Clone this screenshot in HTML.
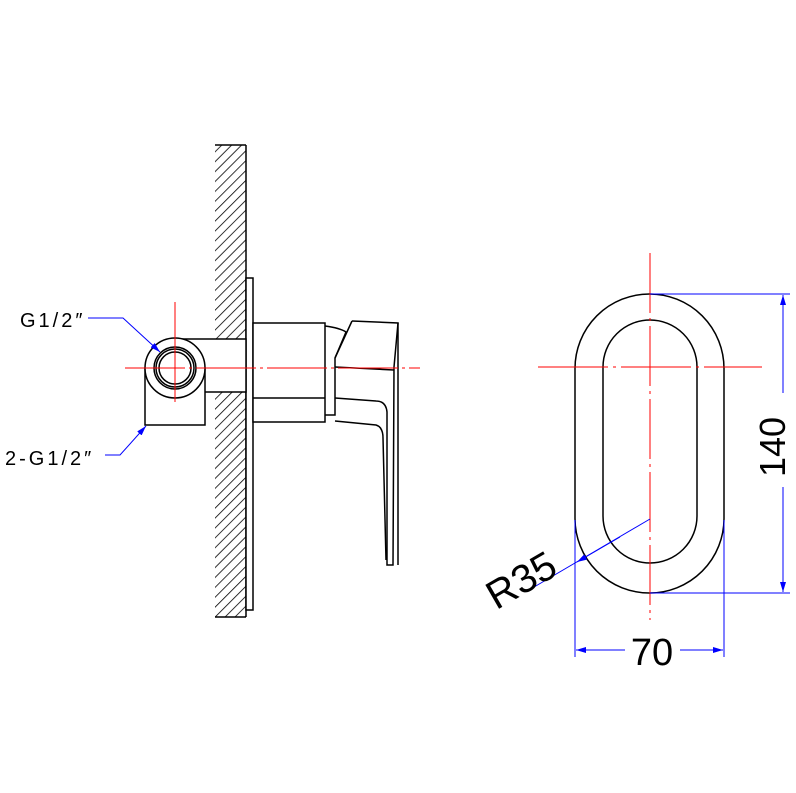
<!DOCTYPE html>
<html><head><meta charset="utf-8"><style>html,body{margin:0;padding:0;background:#fff}svg{display:block}</style></head>
<body>
<svg width="796" height="793" viewBox="0 0 796 793" xmlns="http://www.w3.org/2000/svg">
<defs>
<pattern id="h" patternUnits="userSpaceOnUse" width="7" height="7" patternTransform="rotate(45)">
<line x1="0" y1="0" x2="0" y2="7" stroke="#000" stroke-width="1.6"/>
</pattern>
<marker id="a" markerWidth="10" markerHeight="6" refX="10" refY="3" orient="auto" markerUnits="userSpaceOnUse"><path d="M0,0 L10,3 L0,6 z" fill="#00f"/></marker>
</defs>
<g fill="none" stroke="#000" stroke-width="1.5">
<rect x="215" y="145" width="31" height="472" fill="url(#h)" stroke="none"/>
<line x1="215" y1="145" x2="246" y2="145"/>
<line x1="215" y1="617" x2="246" y2="617"/>
<line x1="246" y1="145" x2="246" y2="617"/>
<rect x="246" y="278" width="7" height="332" fill="#fff"/>
<rect x="175" y="339" width="71" height="53" fill="#fff"/>
<rect x="145" y="368" width="60" height="57" fill="#fff"/>
<circle cx="175" cy="368" r="30" fill="#fff"/>
<circle cx="175" cy="368" r="21"/>
<circle cx="175" cy="368" r="19"/>
<circle cx="175" cy="368" r="16"/>
<rect x="253" y="323" width="72" height="99" fill="#fff"/>
<line x1="253" y1="398" x2="325" y2="398"/>
<path d="M325,326 Q340,328 346,332 L335,358 L335,415 L325,415"/>
<path d="M352,321 L398,323 L394,367 L393,565 L387,565 L387,412 Q386,401 376,401 L335,398"/>
<path d="M335,358 L352,321"/>
<line x1="335" y1="367" x2="394" y2="370"/>
<path d="M335,421 L376,425 Q383,427 383,438 L386,560"/>
<line x1="398" y1="323" x2="398" y2="565"/>
<rect x="575" y="294" width="149" height="299" rx="74.5" ry="74.5"/>
<rect x="603" y="320" width="94" height="243" rx="47" ry="47"/>
</g>
<g stroke="#f00" stroke-width="1" fill="none">
<line x1="125" y1="368" x2="420" y2="368" stroke-dasharray="60,4,3,4"/>
<line x1="175" y1="302" x2="175" y2="402"/>
<line x1="538" y1="367" x2="762" y2="367" stroke-dasharray="70,5,3,5"/>
<line x1="650" y1="253" x2="650" y2="620" stroke-dasharray="60,5,3,5"/>
</g>
<g stroke="#00f" stroke-width="1" fill="none">
<path d="M88,318 L123,318 L160,352" marker-end="url(#a)"/>
<path d="M105,455 L120,455 L146,426" marker-end="url(#a)"/>
<line x1="650" y1="294" x2="790" y2="294"/>
<line x1="650" y1="593" x2="790" y2="593"/>
<line x1="783" y1="393" x2="783" y2="295" marker-end="url(#a)"/>
<line x1="783" y1="487" x2="783" y2="592" marker-end="url(#a)"/>
<line x1="575" y1="520" x2="575" y2="657"/>
<line x1="724" y1="520" x2="724" y2="657"/>
<line x1="625" y1="650" x2="576" y2="650" marker-end="url(#a)"/>
<line x1="680" y1="650" x2="723" y2="650" marker-end="url(#a)"/>
<line x1="650" y1="519" x2="529" y2="590"/>
<line x1="620" y1="537" x2="577" y2="562" marker-end="url(#a)"/>
</g>
<g font-family="Liberation Sans, sans-serif" fill="#000">
<text x="20" y="327" font-size="20" letter-spacing="3">G1/2″</text>
<text x="5" y="465" font-size="20" letter-spacing="3">2-G1/2″</text>
<text x="652" y="665" font-size="38" text-anchor="middle">70</text>
<text transform="translate(785,447) rotate(-90)" font-size="36" text-anchor="middle">140</text>
<text transform="translate(528,592) rotate(-30)" font-size="40" text-anchor="middle">R35</text>
</g>
</svg>
</body></html>
